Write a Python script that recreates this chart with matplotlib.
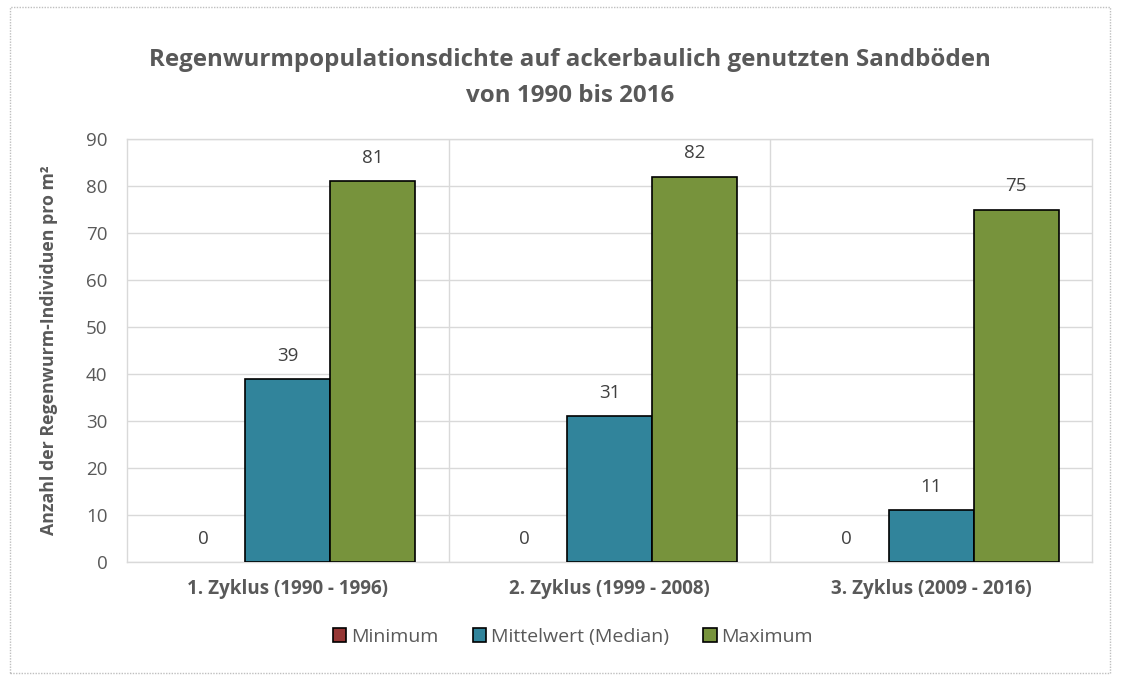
import matplotlib
matplotlib.use("Agg")
import matplotlib.pyplot as plt
import numpy as np
from matplotlib.patches import Rectangle

categories = ["1. Zyklus (1990 - 1996)", "2. Zyklus (1999 - 2008)", "3. Zyklus (2009 - 2016)"]
series_names = ["Minimum", "Mittelwert (Median)", "Maximum"]
minimum = [0, 0, 0]
median = [39, 31, 11]
maximum = [81, 82, 75]
yticks = [0, 10, 20, 30, 40, 50, 60, 70, 80, 90]
colors = ["#953735", "#31849B", "#77933C"]

plt.rcParams['font.family'] = ['Open Sans', 'DejaVu Sans']
txt = "#595959"

fig = plt.figure(figsize=(11.22, 6.83), dpi=100)
ax = fig.add_axes([127/1122, 1-562/683, (1092-127)/1122, (562-139)/683])

x = np.arange(len(categories))
w = 0.264
series = [minimum, median, maximum]
for i, (vals, c, name) in enumerate(zip(series, colors, series_names)):
    lws = [1.2 if v > 0 else 0 for v in vals]
    bars = ax.bar(x + (i-1)*w, vals, w, color=c, edgecolor="black", linewidth=lws, label=name, zorder=3)
    for b, v in zip(bars, vals):
        ax.text(b.get_x()+b.get_width()/2, v + 3.0, str(v), ha="center", va="bottom",
                fontsize=13.5, color="#404040")

ax.set_xlim(-0.5, 2.5)
ax.set_ylim(0, 90)
ax.set_yticks(yticks)
ax.yaxis.grid(True, color="#D9D9D9", linewidth=1, zorder=0)
for xv in [0.5, 1.5]:
    ax.axvline(xv, color="#D9D9D9", linewidth=1, zorder=0)
ax.set_xticks(x)
ax.set_xticklabels(categories, fontsize=13.5, fontweight="bold", color=txt)
ax.tick_params(axis="y", length=0, pad=14, labelsize=13.5, labelcolor=txt)
ax.tick_params(axis="x", length=0, pad=12, labelcolor=txt)
for s in ax.spines.values():
    s.set_color("#D9D9D9")
    s.set_linewidth(1)

ax.set_ylabel("Anzahl der Regenwurm-Individuen pro m²", fontsize=12.8, fontweight="bold", color=txt, labelpad=20)

fig.text(570/1122, 1-78/683, "Regenwurmpopulationsdichte auf ackerbaulich genutzten Sandböden\nvon 1990 bis 2016",
         ha="center", va="center", fontsize=17.4, fontweight="bold", color=txt, linespacing=1.65)

handles = [Rectangle((0, 0), 1, 1, facecolor=c, edgecolor="black", linewidth=1.2) for c in colors]
fig.legend(handles, series_names, loc="center", bbox_to_anchor=(573/1122, 1-637/683), ncol=3,
           frameon=False, fontsize=14, handlelength=0.7, handleheight=0.7, handletextpad=0.25,
           columnspacing=1.75, labelcolor=txt)

border = Rectangle((10/1122, 10/683), 1100/1122, 666/683, transform=fig.transFigure, fill=False,
                   edgecolor="#BFBFBF", linewidth=1, linestyle=(0, (1, 1)))
fig.patches.append(border)

fig.savefig("out.png", dpi=100)
